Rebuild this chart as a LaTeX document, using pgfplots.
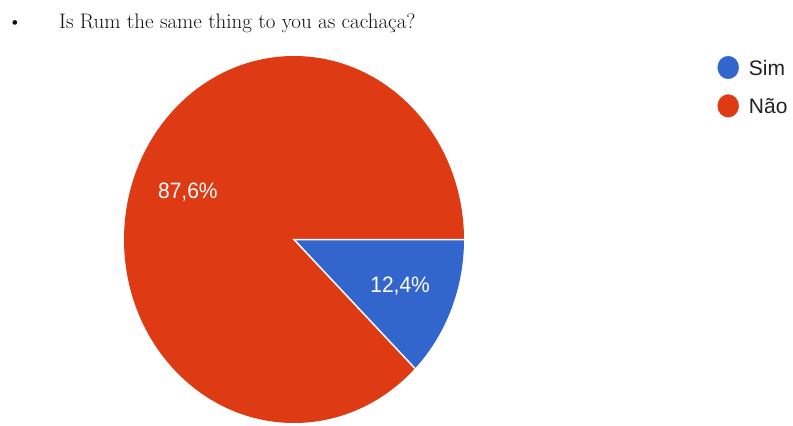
\documentclass[border=0pt]{standalone}
\usepackage{pgfplots}
\pgfplotsset{compat=1.18}
\usepackage{pgfplotstable}
\usepackage{fontspec}
\newfontfamily\chartfont{Liberation Sans}

\definecolor{simblue}{HTML}{3366CC}
\definecolor{naored}{HTML}{DE3A14}
\definecolor{legendtext}{HTML}{222222}
\definecolor{titletext}{HTML}{111111}

% answer shares in percent
\pgfplotstableread{
answer share
Sim 12.4
Nao 87.6
}\answers

\begin{document}%
\begin{tikzpicture}
\pgfplotstablegetelem{0}{share}\of\answers
\pgfmathsetmacro{\simshare}{\pgfplotsretval}
\pgfplotstablegetelem{1}{share}\of\answers
\pgfmathsetmacro{\naoshare}{\pgfplotsretval}
% slices run clockwise from 3 o'clock
\pgfmathsetmacro{\simend}{-3.6*\simshare}
\pgfmathsetmacro{\naoend}{\simend-3.6*\naoshare}
\pgfmathsetmacro{\simmid}{\simend/2}
\pgfmathsetmacro{\naomid}{(\simend+\naoend)/2}
\node[anchor=base, inner sep=0pt, text=titletext, font=\fontsize{21bp}{25bp}\selectfont] at (15bp,-28bp) {\textbullet};
\node[anchor=base west, inner sep=0pt, text=titletext, font=\fontsize{21bp}{25bp}\selectfont] at (59bp,-28bp) {Is Rum the same thing to you as cachaça?};
\begin{axis}[
  at={(294bp,-239.5bp)}, anchor=center,
  scale only axis, width=340bp, height=367bp,
  xmin=-1, xmax=1, ymin=-1, ymax=1,
  hide axis, clip=false,
  legend cell align=left,
  legend style={draw=none, fill=none, inner sep=0pt, outer sep=0pt,
    at={(axis description cs:1.7456,1.0)}, anchor=north west,
    row sep=15.4bp, column sep=10bp,
    font=\chartfont\fontsize{21bp}{25bp}\selectfont, text=legendtext,
    nodes={inner sep=0pt, anchor=west, text height=15bp, text depth=0pt}},
]
\fill[simblue] (axis cs:0,0) -- (axis cs:1,0)
  arc[start angle=0, end angle=\simend, x radius=170bp, y radius=183.5bp] -- cycle;
\fill[naored] (axis cs:0,0) -- (axis cs:{cos(\simend)},{sin(\simend)})
  arc[start angle=\simend, end angle=\naoend, x radius=170bp, y radius=183.5bp] -- cycle;
\draw[white, line width=1.5bp] (axis cs:1,0) -- (axis cs:0,0) -- (axis cs:{cos(\simend)},{sin(\simend)});
\node[text=white, font=\chartfont\fontsize{21bp}{25bp}\selectfont, yscale=1.06]
  at (axis cs:{0.675*cos(\simmid)},{0.675*sin(\simmid)})
  {\pgfmathprintnumber[fixed, fixed zerofill, precision=1, use comma, assume math mode=true]{\simshare}\%};
\node[text=white, font=\chartfont\fontsize{21bp}{25bp}\selectfont, yscale=1.06]
  at (axis cs:{0.675*cos(\naomid)},{0.675*sin(\naomid)})
  {\pgfmathprintnumber[fixed, fixed zerofill, precision=1, use comma, assume math mode=true]{\naoshare}\%};
\addlegendimage{legend image code/.code={\fill[simblue] (0bp,0bp) ellipse[x radius=10.5bp, y radius=11.3bp];}}
\addlegendentry{Sim}
\addlegendimage{legend image code/.code={\fill[naored] (0bp,0bp) ellipse[x radius=10.5bp, y radius=11.3bp];}}
\addlegendentry{Não}
\end{axis}
\pgfresetboundingbox
\useasboundingbox (0,0) rectangle (793bp,-426bp);
\end{tikzpicture}%
\end{document}
